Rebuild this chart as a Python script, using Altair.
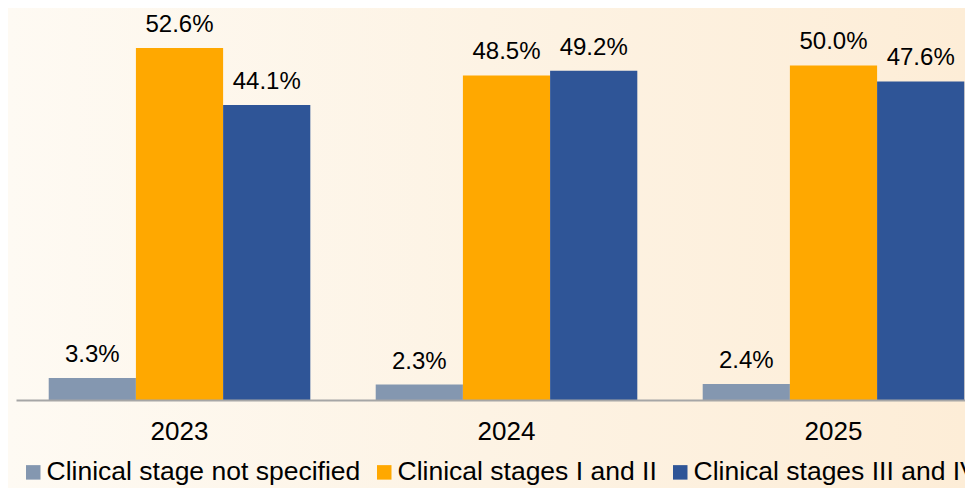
import altair as alt
import pandas as pd

years = ["2023", "2024", "2025"]
series = ["Clinical stage not specified", "Clinical stages I and II", "Clinical stages III and IV"]
not_specified = [3.3, 2.3, 2.4]
stages_1_2 = [52.6, 48.5, 50.0]
stages_3_4 = [44.1, 49.2, 47.6]
colors = ["#8497B0", "#FFA800", "#2F5597"]

rows = []
for i, y in enumerate(years):
    for s, vals in zip(series, [not_specified, stages_1_2, stages_3_4]):
        rows.append({"year": y, "series": s, "value": vals[i], "label": f"{vals[i]:.1f}%"})
df = pd.DataFrame(rows)

FONT = "Liberation Sans"

x_scale = alt.Scale(paddingInner=0.2, paddingOuter=0.0511, align=0.979)
x_enc = alt.X("year:N", sort=years, title=None, scale=x_scale,
              axis=alt.Axis(labelAngle=0, labelFontSize=26, labelFont=FONT, labelColor="#000000",
                            ticks=False, domainColor="#A6A6A6", domainWidth=2, zindex=1,
                            labelPadding=39, labelBaseline="alphabetic"))
xo_enc = alt.XOffset("series:N", sort=series)
y_enc = alt.Y("value:Q", scale=alt.Scale(domain=[0, 58.58], nice=False), axis=None)

bg = alt.Chart(alt.Data(values=[{}])).mark_rect(
    fill=alt.Gradient(gradient="linear",
                      stops=[alt.GradientStop(color="#FEFAF3", offset=0),
                             alt.GradientStop(color="#FDF3E4", offset=0.5),
                             alt.GradientStop(color="#FDEDD7", offset=1)],
                      x1=0, x2=1, y1=0, y2=0)
).encode(x=alt.value(-8), x2=alt.value(949), y=alt.value(-8), y2=alt.value(480))

bars = alt.Chart(df).mark_bar().encode(
    x=x_enc, xOffset=xo_enc, y=y_enc,
    color=alt.Color("series:N", sort=series,
                    scale=alt.Scale(domain=series, range=colors),
                    legend=alt.Legend(orient="none", direction="horizontal", title=None,
                                      legendX=4, legendY=451,
                                      symbolType="square", symbolSize=210, symbolStrokeWidth=0,
                                      labelFontSize=26.5, labelFont=FONT, labelColor="#000000",
                                      labelOffset=0, columnPadding=10, labelLimit=500))
)

text = alt.Chart(df).mark_text(fontSize=24, font=FONT, color="#000000", baseline="alphabetic", dy=-16).encode(
    x=alt.X("year:N", sort=years, scale=x_scale), xOffset=xo_enc, y=y_enc, text="label:N"
)

chart = alt.layer(bg, bars, text).properties(
    width=949, height=392,
    padding={"left": 8, "top": 0, "right": 0, "bottom": 88},
    autosize=alt.AutoSizeParams(type="none"),
    background="#FDF4E6"
).configure_view(stroke=None)

chart.save("out.html", embed_options={"renderer": "svg", "actions": False})
